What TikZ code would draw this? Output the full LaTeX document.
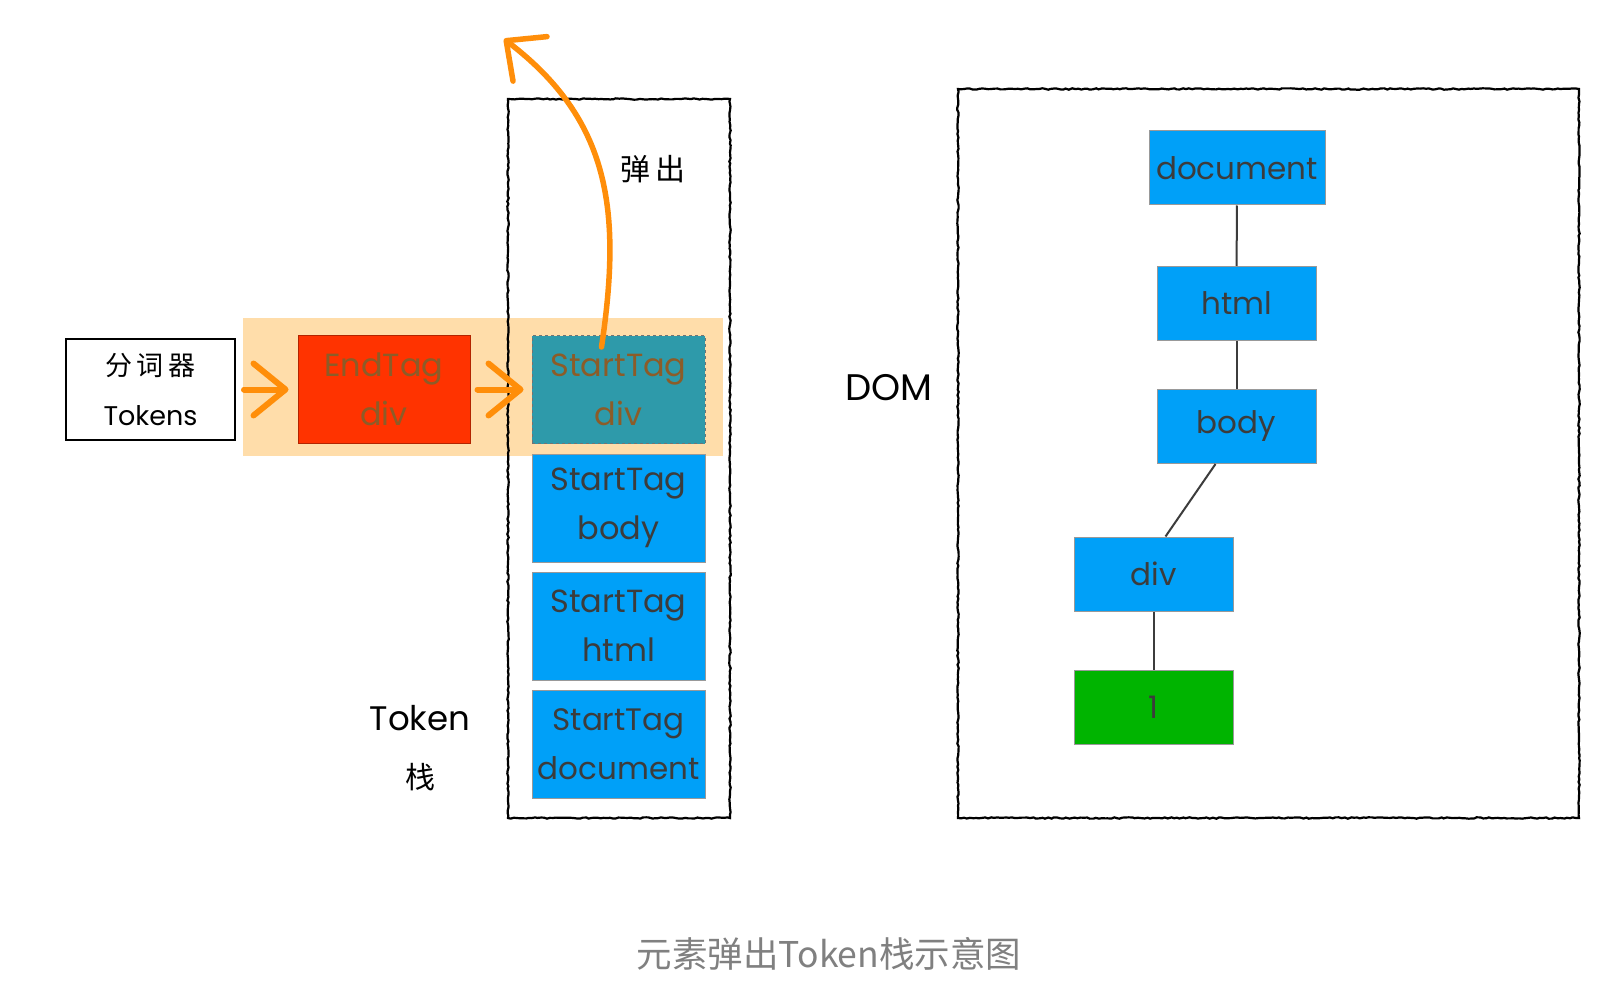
\documentclass[tikz,border=0pt]{standalone}
\usepackage{fontspec}
\setmainfont{Poppins}
\newfontfamily\cjk{Noto Sans CJK SC}
\usetikzlibrary{arrows.meta,decorations.pathmorphing}
\definecolor{bandorange}{RGB}{255,221,170}
\definecolor{arroworange}{RGB}{255,142,10}
\definecolor{tokred}{RGB}{255,51,0}
\definecolor{popteal}{RGB}{46,154,170}
\definecolor{tagblue}{RGB}{0,160,248}
\definecolor{textgreen}{RGB}{0,180,0}
\definecolor{boxtext}{RGB}{60,60,60}
\definecolor{browntext}{RGB}{140,92,40}
\definecolor{captiongray}{RGB}{128,128,128}
\begin{document}
\begin{tikzpicture}[x=1pt,y=-1pt,line width=1pt,
		tagbox/.style={draw=black!40,fill=tagblue,inner sep=0pt,align=center,text=boxtext,
			minimum width=173pt,minimum height=108pt,font=\fontsize{32}{49}\selectfont},
		dombox/.style={tagbox,minimum width=159pt,minimum height=74pt,font=\fontsize{31}{49}\selectfont},
		sketch/.style={draw=black,line width=2.2pt,decorate,
			decoration={random steps,segment length=3pt,amplitude=0.7pt}},
		flow/.style={arroworange,line width=6pt,line cap=round,-{Straight Barb[length=32pt,width=52pt,round]}},
		label/.style={text=black,font=\fontsize{34}{40}\selectfont}]
	\useasboundingbox[fill=white] (0,0) rectangle (1624,992);
	\pgfmathsetseed{7}
	% token stream band and stack frame
	\fill[bandorange] (243,318) rectangle (723,456);
	\draw[sketch] (508,99) rectangle (730,818);
	\draw[sketch] (958,89) rectangle (1579,818);
	% tokenizer and current token
	\node[draw=black,line width=2pt,fill=white,minimum width=169pt,minimum height=101pt,align=center,
		font=\fontsize{27}{50}\selectfont] (lexer) at (150.5,389.5) {{\cjk 分\,词\,器}\\Tokens};
	\node[tagbox,fill=tokred,draw=tokred!70!black,text=browntext,minimum width=172pt] (endTag) at (384,389.5) {EndTag\\div};
	% the stack
	\node[tagbox,fill=popteal,draw=black!55,dashed,text=browntext] (sDiv) at (618.5,389.5) {StartTag\\div};
	\node[tagbox] (sBody) at (618.5,508) {StartTag\\body};
	\node[tagbox] (sHtml) at (618.5,626) {StartTag\\html};
	\node[tagbox,font=\fontsize{31}{49}\selectfont] (sDocument) at (618.5,744) {StartTag\\document};
	\draw[flow] ([xshift=8pt]lexer.east) -- ([xshift=-9pt]endTag.west);
	\draw[flow] ([xshift=7pt]endTag.east) -- ([xshift=-8pt]sDiv.west);
	\coordinate (popEnd) at (504,39);
	\draw[arroworange,line width=5.5pt,line cap=round,-{Straight Barb[length=30pt,width=56pt,round]}]
		([xshift=-17pt,yshift=-12pt]sDiv.north) .. controls (622,210) and (610,120) .. (popEnd);
	\node[label,font=\cjk\fontsize{30}{36}\selectfont] (popLabel) at (653,169) {弹\,出};
	\node[label] (stackLabel) at (420,718) {Token};
	\node[label,font=\cjk\fontsize{30}{36}\selectfont] (stackLabel2) at (420,777) {栈};
	% the DOM tree
	\node[label,font=\fontsize{37}{40}\selectfont] (domLabel) at (889,388) {DOM};
	\node[dombox,minimum width=176pt] (dDocument) at (1237,168) {document};
	\node[dombox] (dHtml) at (1236.5,303.5) {html};
	\node[dombox] (dBody) at (1236.5,426.5) {body};
	\node[dombox] (dDiv) at (1153.5,574) {div};
	\node[dombox,fill=textgreen] (dText) at (1153.5,707.5) {1};
	\draw[boxtext,line width=2pt] (dDocument) -- (dHtml);
	\draw[boxtext,line width=2pt] (dHtml) -- (dBody);
	\draw[boxtext,line width=2pt] ([xshift=-21pt]dBody.south) -- ([xshift=12pt]dDiv.north);
	\draw[boxtext,line width=2pt] (dDiv) -- (dText);
	% caption
	\node[text=captiongray,font=\cjk\fontsize{35.5}{40}\selectfont] (caption) at (829,954) {元素弹出Token栈示意图};
\end{tikzpicture}
\end{document}
